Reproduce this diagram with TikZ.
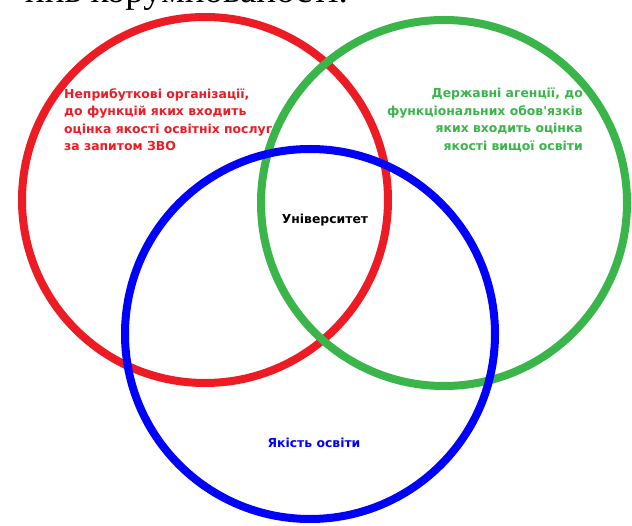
\documentclass[tikz,border=0pt]{standalone}
\usepackage{fontspec}
\newfontfamily\labfont{DejaVu Sans}
\newfontfamily\serfont{Liberation Serif}
\definecolor{vred}{RGB}{237,28,36}
\definecolor{vgreen}{RGB}{57,181,74}
\definecolor{vblue}{RGB}{0,0,255}
\tikzset{
  ring/.style={line width=8pt},
  lab/.style={inner sep=0pt, font=\labfont\bfseries\fontsize{12.4}{17.5}\selectfont},
}
\begin{document}
\begin{tikzpicture}[x=1pt,y=-1pt]
\useasboundingbox (0,0) rectangle (632,526);
\clip (0,0) rectangle (632,526);
\fill[white] (0,0) rectangle (632,526);
\node[anchor=base east, inner sep=0pt, font=\serfont\fontsize{37}{40}\selectfont] (head) at (348,3) {ннь корумпованості.};
\draw[ring, vred] (205,200) circle[radius=183];
\draw[ring, vgreen] (444,203) circle[radius=183];
\draw[ring, vblue] (310,334) circle[radius=185];
\node[lab, text=vred, anchor=north west, align=left] (np) at (64,88)
  {Неприбуткові організації,\\до функцій яких входить\\оцінка якості освітніх послуг\\за запитом ЗВО};
\node[lab, text=vgreen, anchor=north east, align=right] (da) at (583,88)
  {Державні агенції, до\\функціональних обов'язків\\яких входить оцінка\\якості вищої освіти};
\node[lab, text=black, anchor=base] (un) at (325,224) {Університет};
\node[lab, text=vblue, anchor=base] (yo) at (314,448) {Якість освіти};
\end{tikzpicture}
\end{document}
